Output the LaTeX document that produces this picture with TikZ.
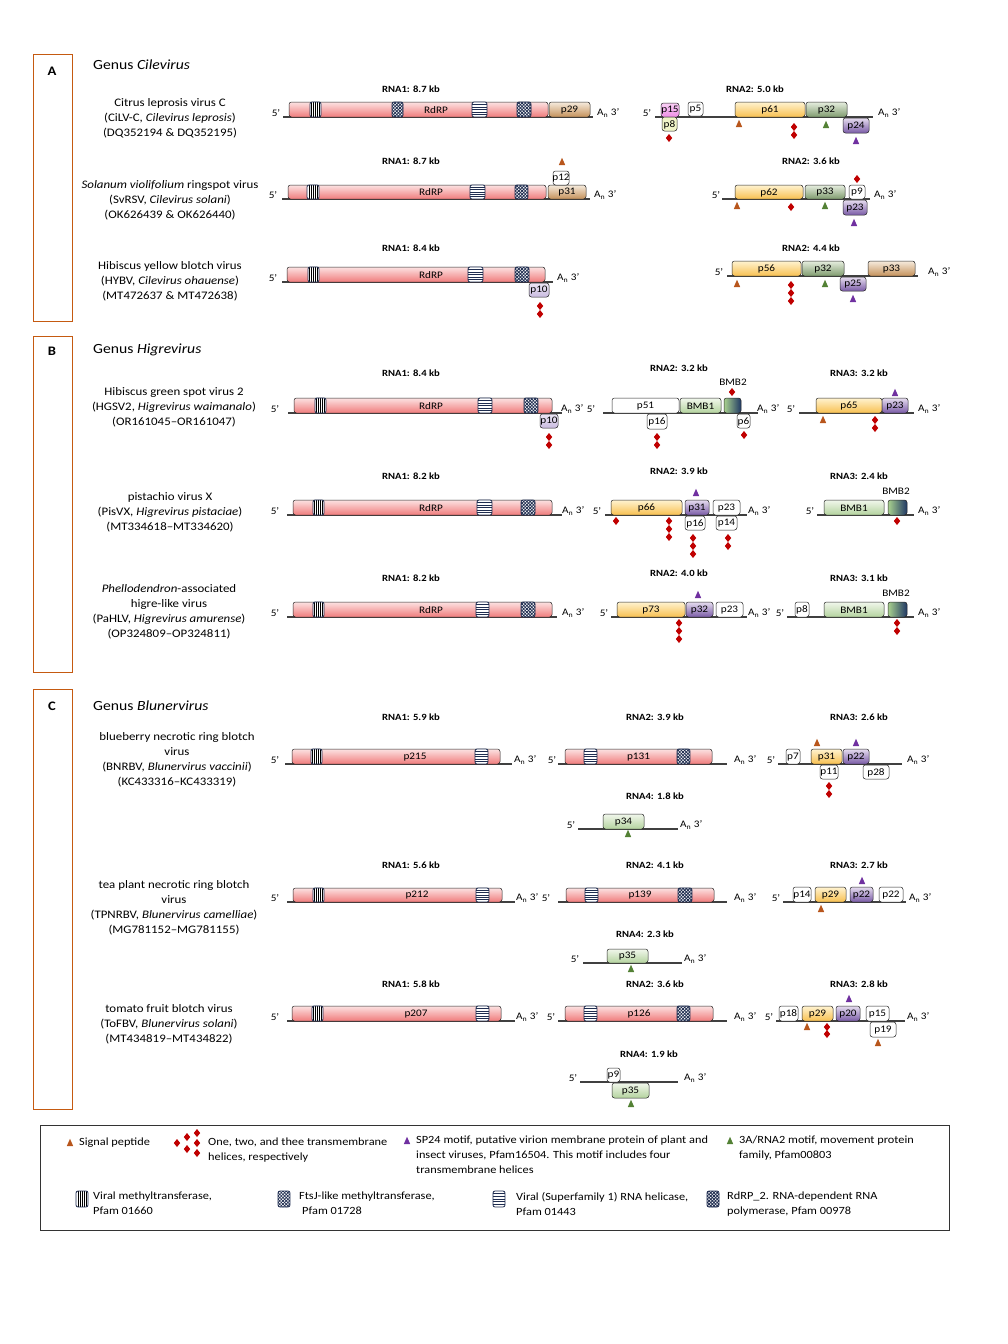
\documentclass[tikz,border=0pt]{standalone}
\usepackage{fontspec}
\setmainfont{Carlito}[FakeStretch=1.12]
\usetikzlibrary{patterns.meta}
\definecolor{rdtop}{HTML}{FCE2E2}
\definecolor{rdbot}{HTML}{F07C7C}
\definecolor{ortop}{HTML}{FFF3D0}
\definecolor{orbot}{HTML}{F8C050}
\definecolor{gntop}{HTML}{E6EEDF}
\definecolor{gnbot}{HTML}{7F9B6E}
\definecolor{brtop}{HTML}{F6EBDD}
\definecolor{brbot}{HTML}{C4915A}
\definecolor{putop}{HTML}{E6DDF0}
\definecolor{pubot}{HTML}{7A5BA6}
\definecolor{lvtop}{HTML}{ECE6F4}
\definecolor{lvbot}{HTML}{C9BBE0}
\definecolor{pktop}{HTML}{FAD0F5}
\definecolor{pkbot}{HTML}{EE8EE6}
\definecolor{ylc}{HTML}{F0F4C8}
\definecolor{lgtop}{HTML}{F1F7EC}
\definecolor{lgbot}{HTML}{B4D39E}
\definecolor{bmL}{HTML}{A9D18E}
\definecolor{bmR}{HTML}{203864}
\definecolor{framec}{HTML}{C55A11}
\definecolor{mbrown}{HTML}{B8561C}
\definecolor{mred}{HTML}{C00000}
\definecolor{mpurple}{HTML}{7030A0}
\definecolor{mgreen}{HTML}{538135}
\definecolor{navyc}{HTML}{1F2D50}
\definecolor{linec}{HTML}{404040}
\newcount\gnn
\tikzset{
 orf/.style={draw=black!85, line width=0.5pt, rounded corners=2.5pt},
 grdrp/.style={top color=rdtop, bottom color=rdbot},
 gorange/.style={top color=ortop, bottom color=orbot},
 ggreen/.style={top color=gntop, bottom color=gnbot},
 gbrown/.style={top color=brtop, bottom color=brbot},
 gpurple/.style={top color=putop, bottom color=pubot},
 glav/.style={top color=lvtop, bottom color=lvbot},
 gpink/.style={top color=pktop, bottom color=pkbot},
 gyel/.style={fill=ylc},
 glgreen/.style={top color=lgtop, bottom color=lgbot},
 gwhite/.style={fill=white},
 gbmb2/.style={left color=bmL, right color=bmR},
 plbl/.style={font=\fontsize{10}{10}\selectfont, inner sep=0pt},
 tlbl/.style={font=\bfseries\fontsize{9.5}{10}\selectfont, inner sep=0pt},
 elbl/.style={font=\fontsize{10}{10}\selectfont, inner sep=0pt},
 vlbl/.style={align=center, font=\fontsize{11.5}{15}\selectfont, inner sep=0pt},
 legtxt/.style={align=left, font=\fontsize{11}{15}\selectfont, anchor=north west, inner sep=0pt},
 rnaln/.style={draw=linec, line width=1.1pt},
 dom/.style={draw=navyc, line width=0.8pt, rounded corners=2pt},
 framebox/.style={draw=framec, line width=1pt},
 gtitle/.style={anchor=west, font=\fontsize{14}{15}\selectfont, inner sep=0pt},
 secletter/.style={font=\bfseries\fontsize{13}{14}\selectfont},
}
\newcommand\Gnext{\global\advance\gnn by 1\relax}
\newcommand\Gorf[6]{%
 \draw[orf,#1] (#2,#3) rectangle (#4,#5);
 \Gnext\node[plbl] (o\the\gnn) at ({(#2+#4)/2},{(#3+#5)/2+0.5}) {#6};}
\newcommand\Grna[5]{%
 \draw[rnaln] (#2,#4) -- (#3,#4);
 \Gnext\node[elbl] (f\the\gnn) at (#1,#4-4) {5’};
 \Gnext\node[elbl,anchor=west] (t\the\gnn) at (#5,#4-4) {A\textsubscript{n} 3’};}
\newcommand\Gttl[3]{\Gnext\node[tlbl] (r\the\gnn) at (#1,#2) {#3};}
\newcommand\Gvst[4]{%
 \begin{scope}\clip[rounded corners=2pt] (#1,#2) rectangle (#3,#4);
 \fill[white] (#1,#2) rectangle (#3,#4);
 \foreach \kk in {1,...,5} \draw[line width=0.8pt, black] ({#1+\kk*(#3-#1)/6},#2) -- ({#1+\kk*(#3-#1)/6},#4);
 \end{scope}
 \draw[dom] (#1,#2) rectangle (#3,#4);}
\newcommand\Ghst[4]{%
 \begin{scope}\clip[rounded corners=2pt] (#1,#2) rectangle (#3,#4);
 \fill[white] (#1,#2) rectangle (#3,#4);
 \foreach \kk in {1,...,5} \draw[line width=1pt, navyc] (#1,{#2+\kk*(#4-#2)/6}) -- (#3,{#2+\kk*(#4-#2)/6});
 \end{scope}
 \draw[dom] (#1,#2) rectangle (#3,#4);}
\newcommand\Gchk[4]{%
 \begin{scope}\clip[rounded corners=2pt] (#1,#2) rectangle (#3,#4);
 \fill[white] (#1,#2) rectangle (#3,#4);
 \fill[pattern={Lines[angle=45,distance=2.3pt,line width=0.8pt]}, pattern color=navyc] (#1,#2) rectangle (#3,#4);
 \fill[pattern={Lines[angle=-45,distance=2.3pt,line width=0.8pt]}, pattern color=navyc] (#1,#2) rectangle (#3,#4);
 \end{scope}
 \draw[dom] (#1,#2) rectangle (#3,#4);}
\newcommand\Gtri[3]{\fill[#1] (#2-3.2,#3+3) -- (#2+3.2,#3+3) -- (#2,#3-4.2) -- cycle;}
\newcommand\Gdm[2]{\fill[mred] (#1,#2-4) -- (#1+3.2,#2) -- (#1,#2+4) -- (#1-3.2,#2) -- cycle;}
\newcommand\Gsmall[3]{\Gnext\node[plbl] (s\the\gnn) at (#1,#2) {#3};}

\begin{document}
\begin{tikzpicture}[x=1pt,y=-1pt]
\useasboundingbox (0,0) rectangle (1008,1344);
\fill[white] (0,0) rectangle (1008,1344);

% ---------- frames ----------
\draw[framebox] (33,54) rectangle (72,321);
\draw[framebox] (33,336) rectangle (72,672);
\draw[framebox] (33,689) rectangle (72,1109);
\node[secletter] (LA) at (52,71) {A};
\node[secletter] (LB) at (52,351) {B};
\node[secletter] (LC) at (52,706) {C};
\node[gtitle] (GA) at (93,65) {Genus \textit{Cilevirus}};
\node[gtitle] (GB) at (93,350) {Genus \textit{Higrevirus}};
\node[gtitle] (GC) at (93,706) {Genus \textit{Blunervirus}};

% ---------- virus labels ----------
\node[vlbl] (V1) at (170,118) {Citrus leprosis virus C\\(CiLV-C, \textit{Cilevirus leprosis})\\(DQ352194 \& DQ352195)};
\node[vlbl] (V2) at (170,200) {\textit{Solanum violifolium} ringspot virus\\(SvRSV, \textit{Cilevirus solani})\\(OK626439 \& OK626440)};
\node[vlbl] (V3) at (170,281) {Hibiscus yellow blotch virus\\(HYBV, \textit{Cilevirus ohauense})\\(MT472637 \& MT472638)};
\node[vlbl] (V4) at (174,407) {Hibiscus green spot virus 2\\(HGSV2, \textit{Higrevirus waimanalo})\\(OR161045–OR161047)};
\node[vlbl] (V5) at (170,512) {pistachio virus X\\(PisVX, \textit{Higrevirus pistaciae})\\(MT334618–MT334620)};
\node[vlbl] (V6) at (169,611.5) {\textit{Phellodendron}-associated\\higre-like virus\\(PaHLV, \textit{Higrevirus amurense})\\(OP324809–OP324811)};
\node[vlbl] (V7) at (177,759.5) {blueberry necrotic ring blotch\\virus\\(BNRBV, \textit{Blunervirus vaccinii})\\(KC433316–KC433319)};
\node[vlbl] (V8) at (174,907.5) {tea plant necrotic ring blotch\\virus\\(TPNRBV, \textit{Blunervirus camelliae})\\(MG781152–MG781155)};
\node[vlbl] (V9) at (169,1024) {tomato fruit blotch virus\\(ToFBV, \textit{Blunervirus solani})\\(MT434819–MT434822)};

% ================= A1 =================
\Gttl{411}{89}{RNA1: 8.7 kb}
\Grna{276}{283}{593}{117}{597}
\Gorf{grdrp}{289}{102}{548}{117}{}
\Gsmall{436}{110}{RdRP}
\Gvst{310}{102}{321}{117}
\Gchk{392}{102}{403}{117}
\Ghst{472}{102}{487}{117}
\Gchk{517}{102}{531}{117}
\Gorf{gbrown}{549}{102}{590}{117}{p29}
\Gttl{755}{89}{RNA2: 5.0 kb}
\Grna{647}{655}{873}{117}{878}
\Gorf{gpink}{661}{103}{679}{117}{p15}
\Gorf{gwhite}{688}{102}{703}{116}{p5}
\Gorf{gyel}{662}{117}{677}{131}{p8}
\Gdm{669}{138}
\Gorf{gorange}{735}{102}{805}{117}{p61}
\Gorf{ggreen}{806}{102}{847}{117}{p32}
\Gorf{gpurple}{843}{118}{869}{133}{p24}
\Gtri{mbrown}{739}{124}
\Gdm{794}{127}\Gdm{794}{135}
\Gtri{mgreen}{826}{125}
\Gtri{mpurple}{856}{141}

% ================= A2 =================
\Gttl{411}{161}{RNA1: 8.7 kb}
\Grna{273}{282}{590}{199}{594}
\Gorf{grdrp}{288}{185}{546}{199}{}
\Gsmall{431}{192.5}{RdRP}
\Gvst{307}{185}{319}{199}
\Ghst{470}{185}{485}{199}
\Gchk{515}{185}{528}{199}
\Gorf{gbrown}{548}{185}{586}{199}{p31}
\Gorf{gwhite}{553}{171}{569}{185}{p12}
\Gtri{mbrown}{562}{162}
\Gttl{811}{161}{RNA2: 3.6 kb}
\Grna{716}{722}{870}{199}{874}
\Gorf{gorange}{735}{185}{803}{199}{p62}
\Gorf{ggreen}{805}{185}{845}{199}{p33}
\Gorf{gwhite}{849}{185}{865}{199}{p9}
\Gorf{gpurple}{843}{200}{867}{215}{p23}
\Gtri{mbrown}{737}{206}
\Gdm{791}{207}
\Gtri{mgreen}{825}{206}
\Gdm{857}{179}
\Gtri{mpurple}{854}{223}

% ================= A3 =================
\Gttl{411}{248}{RNA1: 8.4 kb}
\Grna{273}{282}{553}{282}{557}
\Gorf{grdrp}{287}{267}{545}{282}{}
\Gsmall{431}{275}{RdRP}
\Gvst{308}{267}{319}{282}
\Ghst{468}{267}{483}{282}
\Gchk{515}{267}{529}{282}
\Gorf{glav}{529}{283}{549}{297}{p10}
\Gdm{540}{306}\Gdm{540}{314}
\Gttl{811}{248}{RNA2: 4.4 kb}
\Grna{719}{727}{918}{276}{928}
\Gorf{gorange}{732}{261}{801}{276}{p56}
\Gorf{ggreen}{802}{261}{844}{276}{p32}
\Gorf{gpurple}{840}{277}{866}{291}{p25}
\Gorf{gbrown}{868}{261}{915}{276}{p33}
\Gtri{mbrown}{737}{284}
\Gdm{791}{285}\Gdm{791}{293}\Gdm{791}{301}
\Gtri{mgreen}{825}{284}
\Gtri{mpurple}{853}{299}

% ================= B1 =================
\Gttl{411}{373}{RNA1: 8.4 kb}
\Grna{275}{288}{562}{413}{561}
\Gorf{grdrp}{294}{398}{552}{413}{}
\Gsmall{431}{406}{RdRP}
\Gvst{315}{398}{326}{413}
\Ghst{478}{398}{492}{413}
\Gchk{524}{398}{538}{413}
\Gorf{glav}{540}{414}{558}{428}{p10}
\Gdm{549}{437}\Gdm{549}{445}
\Gttl{679}{368}{RNA2: 3.2 kb}
\Grna{591}{603}{758}{413}{757}
\Gorf{gwhite}{612}{398}{679}{413}{p51}
\Gorf{glgreen}{680}{398}{721}{413}{BMB1}
\Gorf{gbmb2}{724}{398}{741}{413}{}
\Gsmall{733}{382}{BMB2}
\Gdm{732}{392}
\Gorf{gwhite}{647}{414}{667}{429}{p16}
\Gdm{657}{437}\Gdm{657}{445}
\Gorf{gwhite}{737}{414}{750}{428}{p6}
\Gdm{744}{435}
\Gttl{859}{373}{RNA3: 3.2 kb}
\Grna{791}{799}{914}{413}{918}
\Gorf{gorange}{816}{398}{882}{413}{p65}
\Gorf{gpurple}{882}{398}{908}{413}{p23}
\Gtri{mpurple}{895}{393}
\Gtri{mbrown}{823}{420}
\Gdm{875}{420}\Gdm{875}{428}

% ================= B2 =================
\Gttl{411}{476}{RNA1: 8.2 kb}
\Grna{275}{287}{562}{515}{562}
\Gorf{grdrp}{293}{500}{552}{515}{}
\Gsmall{431}{508}{RdRP}
\Gvst{313}{500}{324}{515}
\Ghst{477}{500}{492}{515}
\Gchk{521}{500}{535}{515}
\Gttl{679}{471}{RNA2: 3.9 kb}
\Grna{597}{605}{747}{515}{748}
\Gorf{gorange}{611}{500}{682}{515}{p66}
\Gorf{gpurple}{685}{500}{709}{515}{p31}
\Gorf{gwhite}{713}{500}{740}{515}{p23}
\Gorf{gwhite}{685}{516}{705}{530}{p16}
\Gorf{gwhite}{716}{516}{737}{530}{p14}
\Gtri{mpurple}{696}{493}
\Gdm{616}{521}
\Gdm{669}{521}\Gdm{669}{529}\Gdm{669}{537}
\Gdm{693}{538}\Gdm{693}{546}\Gdm{693}{554}
\Gdm{728}{538}\Gdm{728}{546}
\Gttl{859}{476}{RNA3: 2.4 kb}
\Gsmall{896}{491}{BMB2}
\Grna{810}{817}{914}{515}{918}
\Gorf{glgreen}{824}{500}{884}{515}{BMB1}
\Gorf{gbmb2}{888}{500}{907}{515}{}
\Gdm{897}{521}

% ================= B3 =================
\Gttl{411}{578}{RNA1: 8.2 kb}
\Grna{275}{287}{557}{617}{562}
\Gorf{grdrp}{293}{602}{552}{617}{}
\Gsmall{431}{610}{RdRP}
\Gvst{313}{602}{324}{617}
\Ghst{476}{602}{489}{617}
\Gchk{521}{602}{535}{617}
\Gttl{679}{573}{RNA2: 4.0 kb}
\Grna{604}{611}{747}{617}{748}
\Gorf{gorange}{617}{602}{685}{617}{p73}
\Gorf{gpurple}{686}{602}{713}{617}{p32}
\Gorf{gwhite}{716}{602}{743}{617}{p23}
\Gtri{mpurple}{698}{595}
\Gdm{679}{623}\Gdm{679}{631}\Gdm{679}{639}
\Gttl{859}{578}{RNA3: 3.1 kb}
\Gsmall{896}{593}{BMB2}
\Grna{780}{787}{914}{617}{918}
\Gorf{gwhite}{795}{602}{809}{617}{p8}
\Gorf{glgreen}{824}{602}{884}{617}{BMB1}
\Gorf{gbmb2}{888}{602}{907}{617}{}
\Gdm{897}{623}\Gdm{897}{631}

% ================= C1 =================
\Gttl{411}{717}{RNA1: 5.9 kb}
\Grna{275}{285}{512}{764}{514}
\Gorf{grdrp}{292}{749}{500}{764}{}
\Gsmall{415}{757}{p215}
\Gvst{311}{749}{322}{764}
\Ghst{475}{749}{488}{764}
\Gttl{655}{717}{RNA2: 3.9 kb}
\Grna{552}{558}{727}{764}{734}
\Gorf{grdrp}{565}{749}{712}{764}{p131}
\Ghst{584}{749}{597}{764}
\Gchk{677}{749}{690}{764}
\Gttl{859}{717}{RNA3: 2.6 kb}
\Grna{771}{778}{902}{764}{907}
\Gorf{gwhite}{786}{749}{800}{764}{p7}
\Gorf{gorange}{811}{749}{842}{764}{p31}
\Gorf{gpurple}{843}{749}{869}{764}{p22}
\Gorf{gwhite}{820}{765}{838}{779}{p11}
\Gorf{gwhite}{863}{765}{889}{779}{p28}
\Gtri{mbrown}{817}{743}
\Gtri{mpurple}{856}{743}
\Gdm{829}{786}\Gdm{829}{794}
\Gttl{655}{796}{RNA4: 1.8 kb}
\Grna{571}{578}{678}{829}{680}
\Gorf{glgreen}{603}{814}{644}{829}{p34}
\Gtri{mgreen}{628}{834}

% ================= C2 =================
\Gttl{411}{865}{RNA1: 5.6 kb}
\Grna{275}{287}{515}{902}{516}
\Gorf{grdrp}{293}{888}{502}{902}{}
\Gsmall{417}{895.5}{p212}
\Gvst{313}{888}{324}{902}
\Ghst{476}{888}{489}{902}
\Gttl{655}{865}{RNA2: 4.1 kb}
\Grna{546}{558}{727}{902}{734}
\Gorf{grdrp}{566}{888}{714}{902}{p139}
\Ghst{585}{888}{598}{902}
\Gchk{678}{888}{692}{902}
\Gttl{859}{865}{RNA3: 2.7 kb}
\Grna{776}{783}{906}{902}{909}
\Gorf{gwhite}{793}{887}{811}{902}{p14}
\Gorf{gorange}{815}{887}{846}{902}{p29}
\Gorf{gpurple}{850}{887}{873}{902}{p22}
\Gorf{gwhite}{879}{887}{903}{902}{p22}
\Gtri{mpurple}{862}{881}
\Gtri{mbrown}{821}{909}
\Gttl{645}{934}{RNA4: 2.3 kb}
\Grna{575}{583}{682}{963}{684}
\Gorf{glgreen}{607}{949}{648}{963}{p35}
\Gtri{mgreen}{631}{969}

% ================= C3 =================
\Gttl{411}{984}{RNA1: 5.8 kb}
\Grna{275}{287}{515}{1021}{516}
\Gorf{grdrp}{292}{1006}{501}{1021}{}
\Gsmall{416}{1014}{p207}
\Gvst{312}{1006}{323}{1021}
\Ghst{476}{1006}{489}{1021}
\Gttl{655}{984}{RNA2: 3.6 kb}
\Grna{551}{558}{727}{1021}{734}
\Gorf{grdrp}{565}{1006}{713}{1021}{p126}
\Ghst{584}{1006}{597}{1021}
\Gchk{677}{1006}{690}{1021}
\Gttl{859}{984}{RNA3: 2.8 kb}
\Grna{769}{776}{905}{1021}{907}
\Gorf{gwhite}{779}{1006}{798}{1021}{p18}
\Gorf{gorange}{802}{1006}{833}{1021}{p29}
\Gorf{gpurple}{836}{1006}{860}{1021}{p20}
\Gorf{gwhite}{866}{1006}{889}{1021}{p15}
\Gorf{gwhite}{870}{1022}{896}{1037}{p19}
\Gtri{mpurple}{849}{999}
\Gtri{mbrown}{807}{1027}
\Gdm{827}{1027}\Gdm{827}{1034}
\Gtri{mbrown}{878}{1043}
\Gttl{649}{1054}{RNA4: 1.9 kb}
\Grna{573}{580}{678}{1082}{684}
\Gorf{gwhite}{607}{1068}{620}{1082}{p9}
\Gorf{glgreen}{612}{1083}{649}{1098}{p35}
\Gtri{mgreen}{631}{1104}

% ================= legend =================
\draw[black!80, line width=0.6pt] (40,1125) rectangle (949,1230);
\Gtri{mbrown}{70}{1143}
\node[legtxt] (L1) at (79,1138) {Signal peptide};
\Gdm{177}{1143}
\Gdm{187}{1137}\Gdm{187}{1149}
\Gdm{197}{1133}\Gdm{197}{1143}\Gdm{197}{1153}
\node[legtxt] (L2) at (208,1138) {One, two, and thee transmembrane\\helices, respectively};
\Gtri{mpurple}{407}{1141}
\node[legtxt] (L3) at (416,1136) {SP24 motif, putative virion membrane protein of plant and\\insect viruses, Pfam16504. This motif includes four\\transmembrane helices};
\Gtri{mgreen}{730}{1141}
\node[legtxt] (L4) at (739,1136) {3A/RNA2 motif, movement protein\\family, Pfam00803};
\Gvst{76}{1191}{88}{1207}
\node[legtxt] (L5) at (93,1192) {Viral methyltransferase,\\Pfam 01660};
\Gchk{278}{1191}{290}{1207}
\node[legtxt] (L6) at (299,1192) {FtsJ-like methyltransferase,\\\hspace*{3pt}Pfam 01728};
\Ghst{493}{1191}{505}{1207}
\node[legtxt] (L7) at (516,1192) {Viral (Superfamily 1) RNA helicase,\\Pfam 01443};
\Gchk{707}{1191}{719}{1207}
\node[legtxt] (L8) at (727,1192) {RdRP\_2. RNA-dependent RNA\\polymerase, Pfam 00978};
\end{tikzpicture}
\end{document}
